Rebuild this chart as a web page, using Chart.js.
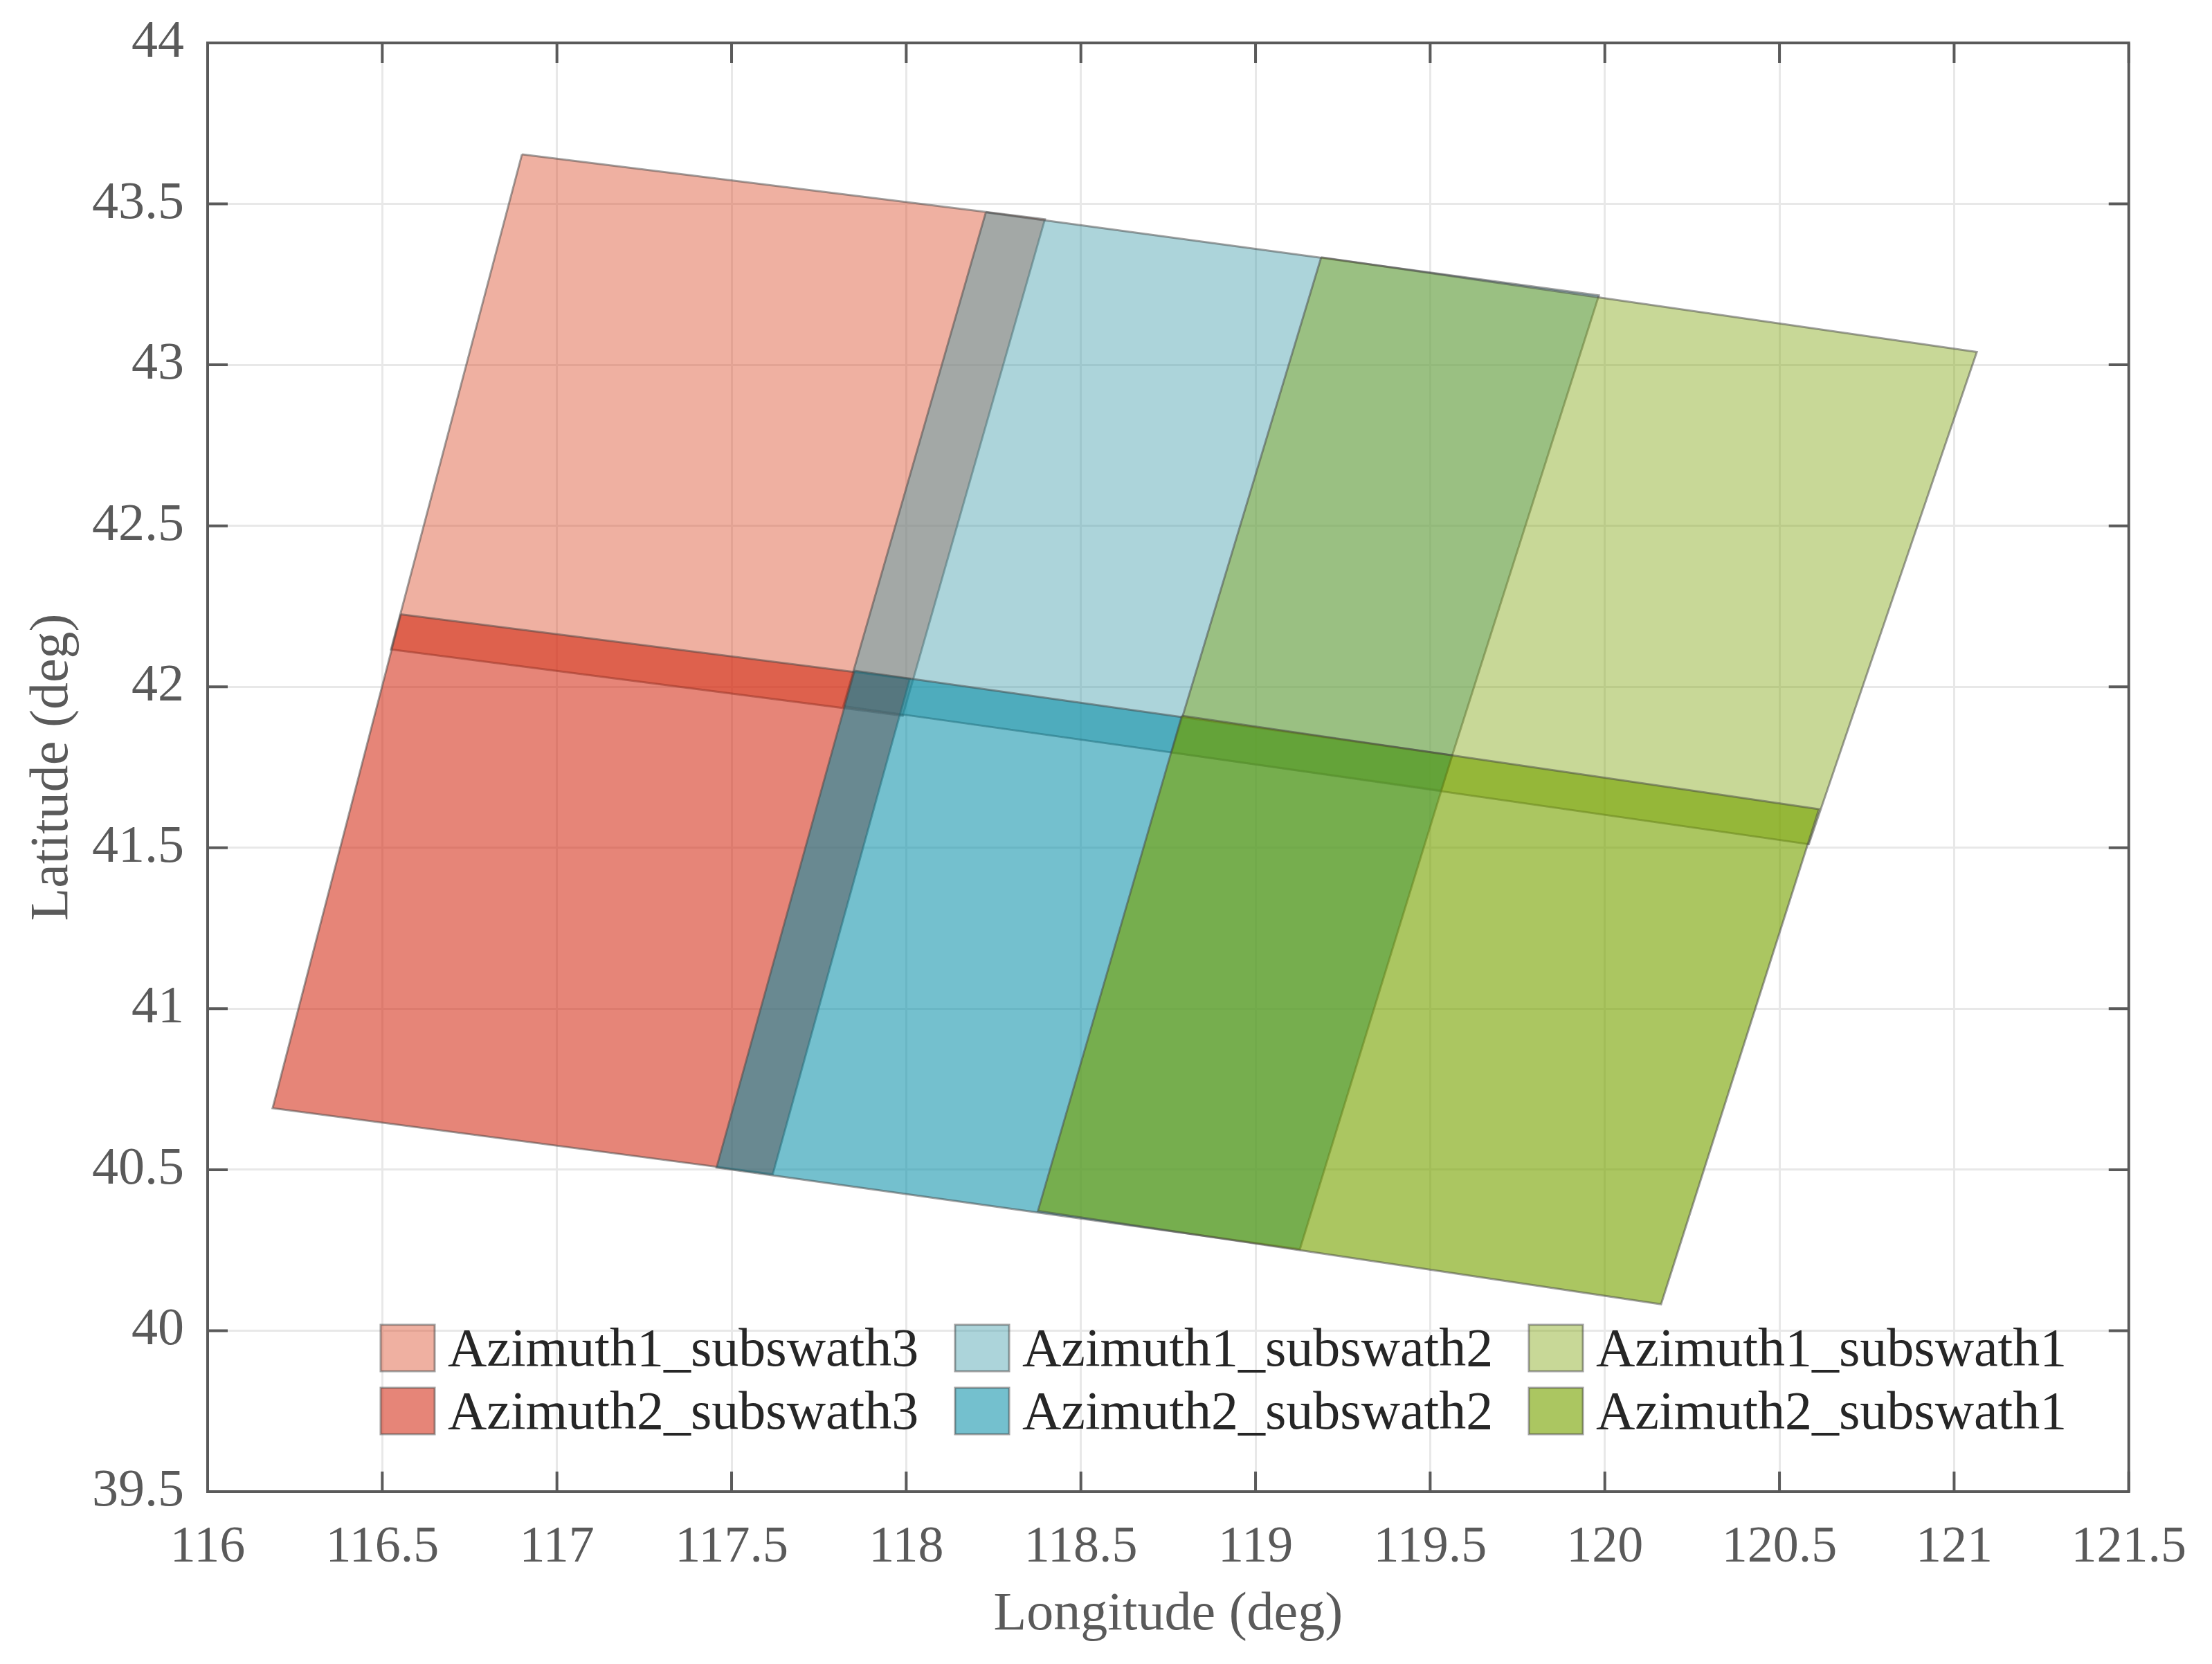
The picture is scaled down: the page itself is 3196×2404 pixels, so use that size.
<!DOCTYPE html>
<html>
<head>
<meta charset="utf-8">
<script src="https://cdn.jsdelivr.net/npm/chart.js@4"></script>
<style>
  html, body { margin: 0; padding: 0; background: #fff; }
  canvas { display: block; }
</style>
</head>
<body>
<canvas id="swathChart" width="3196" height="2404"></canvas>
<script>
const lonTicks = [116, 116.5, 117, 117.5, 118, 118.5, 119, 119.5, 120, 120.5, 121, 121.5];
const latTicks = [39.5, 40, 40.5, 41, 41.5, 42, 42.5, 43, 43.5, 44];

const swathNames = [
  'Azimuth1_subswath3', 'Azimuth1_subswath2', 'Azimuth1_subswath1',
  'Azimuth2_subswath3', 'Azimuth2_subswath2', 'Azimuth2_subswath1'
];

// footprint corners (last point closes the shape)
const a1s3Lon = [116.90, 118.397, 117.990, 116.525, 116.90];
const a1s3Lat = [43.654, 43.452, 41.910, 42.116, 43.654];
const a1s2Lon = [118.228, 119.983, 119.531, 117.820, 118.228];
const a1s2Lat = [43.474, 43.216, 41.678, 41.940, 43.474];
const a1s1Lon = [119.188, 121.065, 120.584, 118.760, 119.188];
const a1s1Lat = [43.334, 43.040, 41.511, 41.796, 43.334];
const a2s3Lon = [116.553, 118.010, 117.618, 116.186, 116.553];
const a2s3Lat = [42.225, 42.024, 40.486, 40.691, 42.225];
const a2s2Lon = [117.852, 119.563, 119.127, 117.457, 117.852];
const a2s2Lat = [42.050, 41.787, 40.253, 40.507, 42.050];
const a2s1Lon = [118.789, 120.613, 120.161, 118.377, 118.789];
const a2s1Lat = [41.910, 41.620, 40.082, 40.372, 41.910];

const swathLons = [a1s3Lon, a1s2Lon, a1s1Lon, a2s3Lon, a2s2Lon, a2s1Lon];
const swathLats = [a1s3Lat, a1s2Lat, a1s1Lat, a2s3Lat, a2s2Lat, a2s1Lat];
const swathFills = [
  'rgba(219,79,46,0.45)', 'rgba(71,159,173,0.45)', 'rgba(133,168,24,0.45)',
  'rgba(209,33,10,0.55)', 'rgba(2,140,166,0.55)', 'rgba(120,163,0,0.62)'
];

const tickColor = '#5a5a5a';
const edgeColor = 'rgba(70,70,70,0.5)';
const serif = '"Liberation Serif", "Times New Roman", serif';

// MATLAB style box: frame with inward ticks on all four sides, plus the legend
const frameAndLegend = {
  id: 'frameAndLegend',
  afterDraw(chart) {
    const { ctx, chartArea: a, scales } = chart;
    const tick = 29;
    ctx.save();
    ctx.strokeStyle = tickColor;
    ctx.lineWidth = 4;
    ctx.strokeRect(a.left, a.top, a.right - a.left, a.bottom - a.top);
    ctx.beginPath();
    lonTicks.forEach(v => {
      const x = scales.x.getPixelForValue(v);
      ctx.moveTo(x, a.bottom); ctx.lineTo(x, a.bottom - tick);
      ctx.moveTo(x, a.top); ctx.lineTo(x, a.top + tick);
    });
    latTicks.forEach(v => {
      const y = scales.y.getPixelForValue(v);
      ctx.moveTo(a.left, y); ctx.lineTo(a.left + tick, y);
      ctx.moveTo(a.right, y); ctx.lineTo(a.right - tick, y);
    });
    ctx.stroke();

    // legend, three columns and two rows
    const colX = [550, 1380, 2209];
    const rowY = [1914, 2005];
    ctx.font = '78px ' + serif;
    ctx.textBaseline = 'middle';
    ctx.textAlign = 'left';
    swathNames.forEach((name, i) => {
      const x = colX[i % 3];
      const y = rowY[Math.floor(i / 3)];
      ctx.fillStyle = swathFills[i];
      ctx.fillRect(x, y, 78, 67);
      ctx.strokeStyle = edgeColor;
      ctx.lineWidth = 3;
      ctx.strokeRect(x, y, 78, 67);
      ctx.fillStyle = '#262626';
      ctx.fillText(name, x + 97, y + 39);
    });
    ctx.restore();
  }
};

new Chart(document.getElementById('swathChart').getContext('2d'), {
  type: 'scatter',
  data: {
    datasets: swathNames.map((name, i) => ({
      label: name,
      data: swathLons[i].map((lon, k) => ({ x: lon, y: swathLats[i][k] })),
      showLine: true,
      tension: 0,
      fill: 'shape',
      backgroundColor: swathFills[i],
      borderColor: edgeColor,
      borderWidth: 3,
      pointRadius: 0,
      order: swathNames.length - i
    }))
  },
  options: {
    responsive: false,
    animation: false,
    events: [],
    layout: { padding: { left: 0, top: 62, right: 102, bottom: 0 } },
    plugins: { legend: { display: false }, tooltip: { enabled: false } },
    scales: {
      x: {
        type: 'linear',
        min: 116,
        max: 121.5,
        afterBuildTicks: s => { s.ticks = lonTicks.map(v => ({ value: v })); },
        afterFit: s => { s.height = 249; },
        grid: { color: '#e8e8e8', lineWidth: 3, drawTicks: false },
        border: { display: false },
        ticks: {
          color: tickColor,
          font: { family: serif, size: 74 },
          padding: 37,
          maxRotation: 0,
          autoSkip: false,
          callback: v => String(v)
        },
        title: {
          display: true,
          text: 'Longitude (deg)',
          color: tickColor,
          font: { family: serif, size: 78 },
          padding: { top: 0, bottom: 24 }
        }
      },
      y: {
        type: 'linear',
        min: 39.5,
        max: 44,
        afterBuildTicks: s => { s.ticks = latTicks.map(v => ({ value: v })); },
        afterFit: s => { s.width = 300; },
        grid: { color: '#e8e8e8', lineWidth: 3, drawTicks: false },
        border: { display: false },
        ticks: {
          color: tickColor,
          // small line height so the top label does not push the plot area down
          font: { family: serif, size: 76, lineHeight: 0.7 },
          padding: 34,
          autoSkip: false,
          callback: v => String(v)
        },
        title: {
          display: true,
          text: 'Latitude (deg)',
          color: tickColor,
          font: { family: serif, size: 78 },
          padding: { top: 30, bottom: 0 }
        }
      }
    }
  },
  plugins: [frameAndLegend]
});
</script>
</body>
</html>
